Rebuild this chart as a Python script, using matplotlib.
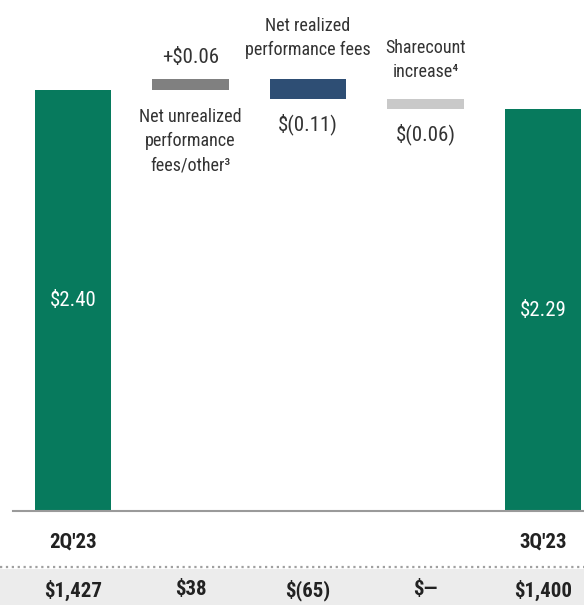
import matplotlib
matplotlib.use('Agg')
import matplotlib.pyplot as plt
from matplotlib.lines import Line2D
from matplotlib.patches import Rectangle

# EPS bridge 2Q'23 -> 3Q'23
categories = ["2Q'23", "Net unrealized\nperformance\nfees/other³",
              "Net realized\nperformance fees", "Sharecount\nincrease⁴", "3Q'23"]
eps_change = [2.40, 0.06, -0.11, -0.06, 2.29]
eps_labels = ["$2.40", "+$0.06", "$(0.11)", "$(0.06)", "$2.29"]
income_labels = ["$1,427", "$38", "$(65)", "$—", "$1,400"]
bar_colors = ['#077a5d', '#808080', '#2e4e74', '#c9c9c9', '#077a5d']

# condensed face, close to the narrow sans of the slide
plt.rcParams['font.family'] = ['Roboto Condensed', 'DejaVu Sans']

# waterfall bottoms / heights
bottoms, heights = [], []
running = 0.0
for i, v in enumerate(eps_change):
    if i == 0 or i == len(eps_change) - 1:
        bottoms.append(0.0)
        heights.append(v)
        running = v
    else:
        new = running + v
        bottoms.append(min(running, new))
        heights.append(abs(v))
        running = new

W, H = 584, 605
fig = plt.figure(figsize=(W / 100, H / 100), dpi=100)
ax = fig.add_axes([13 / W, 1 - 511 / H, 571 / W, 511 / H])

x = list(range(len(categories)))
ax.bar(x, heights, bottom=bottoms, width=0.65, color=bar_colors, zorder=2)

ax.set_xlim(-0.511, 4.349)
ax.set_ylim(0, 2.913)
for s in ['top', 'left', 'right']:
    ax.spines[s].set_visible(False)
ax.spines['bottom'].set_color('#9a9a9a')
ax.spines['bottom'].set_linewidth(1.5)
ax.set_xticks([])
ax.set_yticks([])

txt = '#333333'
# totals inside the bars
for i in (0, 4):
    ax.text(i, heights[i] / 2, eps_labels[i], ha='center', va='center',
            color='white', fontsize=15)
    ax.text(i, -0.0607, categories[i], transform=ax.get_xaxis_transform(),
            ha='center', va='center', fontsize=15, fontweight='bold', color='#222222')

# floating steps: label above/below
top_texts = {1: eps_labels[1], 2: categories[2], 3: categories[3]}
top_offsets = {1: 16, 2: 30, 3: 28}
bottom_texts = {1: categories[1], 2: eps_labels[2], 3: eps_labels[3]}
bottom_offsets = {1: -37, 2: -18, 3: -18}
for i in (1, 2, 3):
    top = bottoms[i] + heights[i]
    fs = 15 if i == 1 else 13
    ax.annotate(top_texts[i], (i, top), xytext=(0, top_offsets[i]),
                textcoords='offset points', ha='center', va='center',
                fontsize=fs, color=txt, linespacing=1.45)
    fs = 13 if i == 1 else 15
    ax.annotate(bottom_texts[i], (i, bottoms[i]), xytext=(0, bottom_offsets[i]),
                textcoords='offset points', ha='center', va='center',
                fontsize=fs, color=txt, linespacing=1.45)

# net income row
fig.patches.append(Rectangle((0, 0), 1, 36 / H, transform=fig.transFigure,
                             facecolor='#ececec', edgecolor='none', zorder=-1))
fig.lines.append(Line2D([0, 1], [1 - 567 / H] * 2, transform=fig.transFigure,
                        color='#a0a0a0', linestyle=':', linewidth=1.6))
for i, lab in enumerate(income_labels):
    ax.text(i, -0.1545, lab, transform=ax.get_xaxis_transform(), ha='center',
            va='center', fontsize=15, fontweight='bold', color='#222222', clip_on=False)

fig.savefig('out.png', dpi=100)
